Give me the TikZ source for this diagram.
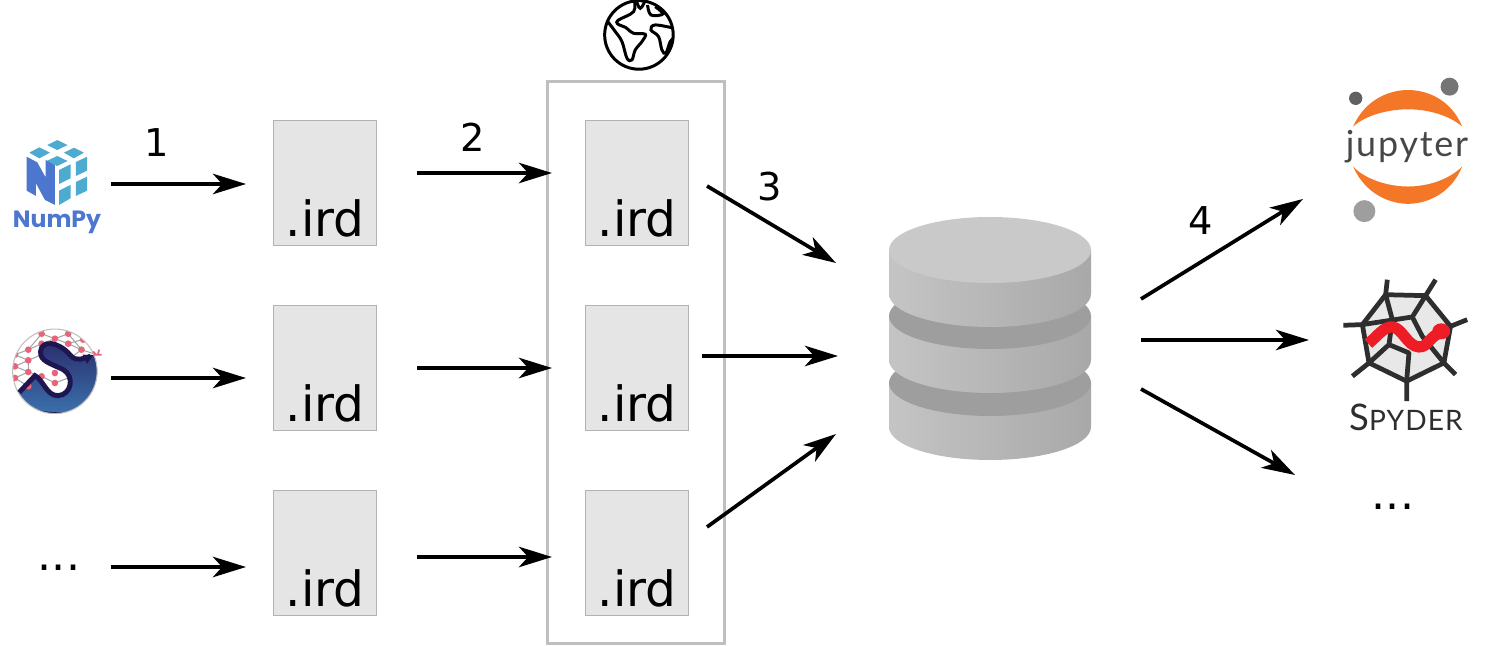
\documentclass[tikz,border=0pt]{standalone}
\usepackage{fontspec}
\setmainfont{DejaVu Sans}
\newfontfamily\logofont{Lato}
\newfontfamily\npfont{Poppins}
\usetikzlibrary{arrows.meta, positioning, calc}
\definecolor{npblue}{HTML}{4D77CF}
\definecolor{npcyan}{HTML}{4DABCF}
\definecolor{sppink}{HTML}{E8647A}
\definecolor{spnavy}{HTML}{1E1650}
\definecolor{sptop}{HTML}{2A2C6C}
\definecolor{spbottom}{HTML}{3B74AE}
\definecolor{juorange}{HTML}{F37726}
\definecolor{sydark}{HTML}{2E2E2E}
\definecolor{syred}{HTML}{EE1C25}
\tikzset{
    irdbox/.style={rectangle, draw=black!30, line width=0.3pt, fill=black!10, minimum width=1.03cm, inner xsep=0pt, inner ysep=0pt, text height=1.16cm, text depth=0.09cm, font=\fontsize{13.8}{14}\selectfont},
    arrow/.style={-{Stealth[length=9.4pt, width=5.8pt, inset=2.6pt]}, line width=1.05pt},
    step label/.style={font=\fontsize{10.9}{12}\selectfont, inner sep=0pt},
    dots label/.style={font=\fontsize{12.6}{14}\selectfont, inner sep=0pt},
    disk side/.style={left color=black!23, right color=black!34},
    globe line/.style={black, line width=0.85pt},
    net line/.style={black!35, line width=0.3pt},
}
\begin{document}
\begin{tikzpicture}[x=0.01cm, y=-0.01cm]
    \useasboundingbox (0,0) rectangle (1496,646);
    % globe box
    \node[draw=black!25, line width=0.85pt, minimum width=1.77cm, minimum height=5.62cm, inner sep=0pt] (globebox) at (636,362.5) {};
    % ird files
    \foreach \col/\xpos in {1/325, 2/637}
        \foreach \row/\ypos in {1/183, 2/368, 3/553}
            \node[irdbox] (ird\col\row) at (\xpos,\ypos) {.ird};
    % numpy logo
    \begin{scope}[xshift=0cm, yshift=-1.2cm, x=0.00333cm, y=-0.00333cm]
        \fill[npcyan] (172,60) -- (203,75) -- (172,90) -- (142,75) -- cycle;
        \fill[npcyan] (118,82) -- (150,98) -- (118,115) -- (88,98) -- cycle;
        \fill[npcyan] (222,83) -- (252,98) -- (222,115) -- (192,98) -- cycle;
        \fill[npcyan] (172,108) -- (203,123) -- (172,138) -- (140,123) -- cycle;
        \fill[npcyan] (178,150) -- (212,133) -- (212,175) -- (178,192) -- cycle;
        \fill[npcyan] (228,126) -- (262,110) -- (262,152) -- (228,168) -- cycle;
        \fill[npcyan] (178,212) -- (212,195) -- (212,235) -- (178,255) -- cycle;
        \fill[npcyan] (228,186) -- (262,170) -- (262,212) -- (228,228) -- cycle;
        \fill[npblue] (80,110) -- (112,127) -- (137,172) -- (137,120) -- (165,135) -- (165,255) -- (135,240) -- (108,190) -- (108,228) -- (80,212) -- cycle;
    \end{scope}
    \node[inner sep=0pt, text=npblue, font=\npfont\bfseries\fontsize{6.7}{9}\selectfont] (numpy) at (57,222) {NumPy};
    % scipy logo
    \begin{scope}[xshift=0cm, yshift=-1.2cm, x=0.00333cm, y=-0.00333cm]
        \begin{scope}
            \clip (165,755) circle (127);
            \draw[net line] (30,725) -- (45,705) -- (85,690) -- (125,642) -- (165,657) -- (205,642) -- (245,690) -- (290,705);
            \draw[net line] (30,745) -- (45,740) -- (85,722) -- (125,705) -- (165,657) -- (205,672) -- (245,660);
            \draw[net line] (30,790) -- (45,775) -- (85,757) -- (125,770) -- (165,790) -- (205,775);
            \draw[net line] (45,775) -- (85,800) -- (125,770);
            \draw[net line] (85,690) -- (125,672) -- (165,657) (205,672) -- (245,690) -- (205,720);
            \draw[net line] (45,705) -- (85,722) -- (85,757) -- (45,740);
            \shade[top color=sptop, bottom color=spbottom] (35,830) -- (105,768) .. controls (130,780) and (140,830) .. (175,828) .. controls (215,825) and (225,770) .. (190,750) .. controls (150,730) and (120,725) .. (122,695) .. controls (125,660) and (175,665) .. (210,705) .. controls (230,730) and (250,715) .. (300,700) -- (300,890) -- (30,890) -- cycle;
            \fill[spnavy] (30,885) -- (300,885) -- (300,860) .. controls (230,885) and (110,885) .. (80,855) -- cycle;
            \foreach \dotx/\doty in {125/642, 205/642, 165/657, 85/690, 205/672, 245/690, 125/672, 45/705, 45/740, 85/722, 85/757, 45/775, 125/770, 165/790, 165/760, 85/800, 250/660}
                \fill[sppink] (\dotx,\doty) circle (10);
        \end{scope}
        \draw[black!25, line width=0.3pt] (165,755) circle (127);
        \draw[spnavy, line width=1.4pt] (58,818) -- (105,768) .. controls (130,780) and (140,830) .. (175,828) .. controls (215,825) and (225,770) .. (190,750) .. controls (150,730) and (120,725) .. (122,695) .. controls (125,660) and (175,665) .. (210,705) .. controls (230,730) and (250,715) .. (272,710);
        \fill[spnavy] (248,705) -- (280,706) -- (262,732) -- cycle;
        \draw[sppink, line width=0.5pt] (283,705) -- (305,705) (294,705) -- (298,690) (288,705) -- (280,695);
    \end{scope}
    \node[dots label] (dots1) at (59,568) {...};
    % step arrows
    \coordinate (a1s) at (111,184);  \coordinate (a1e) at (246,184);
    \coordinate (b1s) at (111,378);  \coordinate (b1e) at (246,378);
    \coordinate (c1s) at (111,567);  \coordinate (c1e) at (246,567);
    \coordinate (a2s) at (417,173);  \coordinate (a2e) at (552,173);
    \coordinate (b2s) at (417,368);  \coordinate (b2e) at (552,368);
    \coordinate (c2s) at (417,557);  \coordinate (c2e) at (552,557);
    \coordinate (a3s) at (707,186);  \coordinate (a3e) at (836,263);
    \coordinate (b3s) at (702,356);  \coordinate (b3e) at (838,356);
    \coordinate (c3s) at (707,527);  \coordinate (c3e) at (836,434);
    \coordinate (a4s) at (1141,299); \coordinate (a4e) at (1303,199);
    \coordinate (b4s) at (1141,340); \coordinate (b4e) at (1309,340);
    \coordinate (c4s) at (1141,389); \coordinate (c4e) at (1295,475);
    \foreach \line in {a1, b1, c1, a2, b2, c2, a3, b3, c3, a4, b4, c4}
        \draw[arrow] (\line s) -- (\line e);
    \node[step label] (n1) at (157,143) {1};
    \node[step label] (n2) at (473,137) {2};
    \node[step label] (n3) at (770,187) {3};
    \node[step label] (n4) at (1201,221) {4};
    % globe
    \begin{scope}[xshift=5.9cm, yshift=0cm, x=0.00333cm, y=-0.00333cm]
        \draw[globe line] (146,105) circle (103);
        \begin{scope}
            \clip (146,105) circle (103);
            \draw[globe line] plot[smooth, tension=0.6] coordinates {(132,0) (130,35) (85,60) (82,72) (105,82) (130,100) (165,103) (155,125) (135,150) (125,180) (110,175) (95,125) (75,95) (50,62)};
            \draw[globe line] plot[smooth, tension=0.8] coordinates {(138,0) (150,25) (165,0)};
            \draw[globe line] plot[smooth, tension=0.6] coordinates {(172,15) (182,45) (218,42) (195,20)};
            \draw[globe line] plot[smooth, tension=0.6] coordinates {(252,85) (195,75) (182,90) (205,110) (215,150) (227,160) (240,125) (255,110)};
        \end{scope}
    \end{scope}
    % database
    \shade[disk side] (889,383) -- (1091,383) -- (1091,427) arc[start angle=0, end angle=-180, x radius=101, y radius=-33] -- cycle;
    \fill[black!38] (990,383) ellipse (101 and 33);
    \shade[disk side] (889,316) -- (1091,316) -- (1091,360) arc[start angle=0, end angle=-180, x radius=101, y radius=-33] -- cycle;
    \fill[black!38] (990,316) ellipse (101 and 33);
    \shade[disk side] (889,250) -- (1091,250) -- (1091,294) arc[start angle=0, end angle=-180, x radius=101, y radius=-33] -- cycle;
    \fill[black!21] (990,250) ellipse (101 and 33);
    % jupyter logo
    \begin{scope}[xshift=13.2cm, yshift=-0.7cm, x=0.00333cm, y=-0.00333cm]
        \fill[juorange] (97,170) .. controls (135,85) and (210,60) .. (262,60) .. controls (315,60) and (390,85) .. (425,170) .. controls (385,135) and (320,118) .. (262,118) .. controls (205,118) and (135,135) .. (97,170) -- cycle;
        \fill[juorange] (97,290) .. controls (135,375) and (210,402) .. (262,402) .. controls (315,402) and (390,375) .. (425,290) .. controls (385,330) and (320,350) .. (262,350) .. controls (205,350) and (135,330) .. (97,290) -- cycle;
        \fill[black!62] (105,85) circle (20);
        \fill[black!54] (387,50) circle (27);
        \fill[black!38] (131,424) circle (33);
    \end{scope}
    \node[inner sep=0pt, text=black!72, font=\logofont\fontsize{10.2}{12}\selectfont] (jupyter) at (1407,147) {\addfontfeature{LetterSpace=5}jupyter};
    % spyder logo
    \begin{scope}[xshift=13.2cm, yshift=-0.7cm, x=0.00333cm, y=-0.00333cm]
        \filldraw[fill=black!9, draw=sydark, line width=1.35pt, line join=round] (195,675) -- (315,678) -- (390,770) -- (370,880) -- (258,935) -- (145,880) -- (125,765) -- cycle;
        \draw[sydark, line width=1.35pt] (195,675) -- (200,630) (315,678) -- (345,630) (390,770) -- (440,750) (370,880) -- (405,915) (258,935) -- (258,995) (145,880) -- (95,920) (125,765) -- (68,767);
        \draw[sydark, line width=1.35pt, line join=round] (125,765) -- (275,742) -- (315,678);
        \draw[sydark, line width=1.35pt, line join=round] (195,675) -- (215,750) -- (205,825) -- (145,880);
        \draw[sydark, line width=1.35pt, line join=round] (205,825) -- (265,850) -- (258,935);
        \draw[sydark, line width=1.35pt, line join=round] (275,742) -- (305,800) -- (370,880);
        \draw[syred, line width=3.2pt] (143,822) .. controls (170,800) and (190,770) .. (215,772) .. controls (245,775) and (260,830) .. (295,832) .. controls (325,832) and (325,800) .. (360,790);
        \fill[syred] (362,785) ellipse (27 and 24);
    \end{scope}
    \node[inner sep=0pt, text=sydark, font=\logofont\fontsize{10.4}{12}\selectfont] (spyder) at (1406,417) {\addfontfeature{LetterSpace=4}S{\fontsize{8}{9}\selectfont\addfontfeature{LetterSpace=4}PYDER}};
    \node[dots label] (dots2) at (1393,507) {...};
\end{tikzpicture}
\end{document}
